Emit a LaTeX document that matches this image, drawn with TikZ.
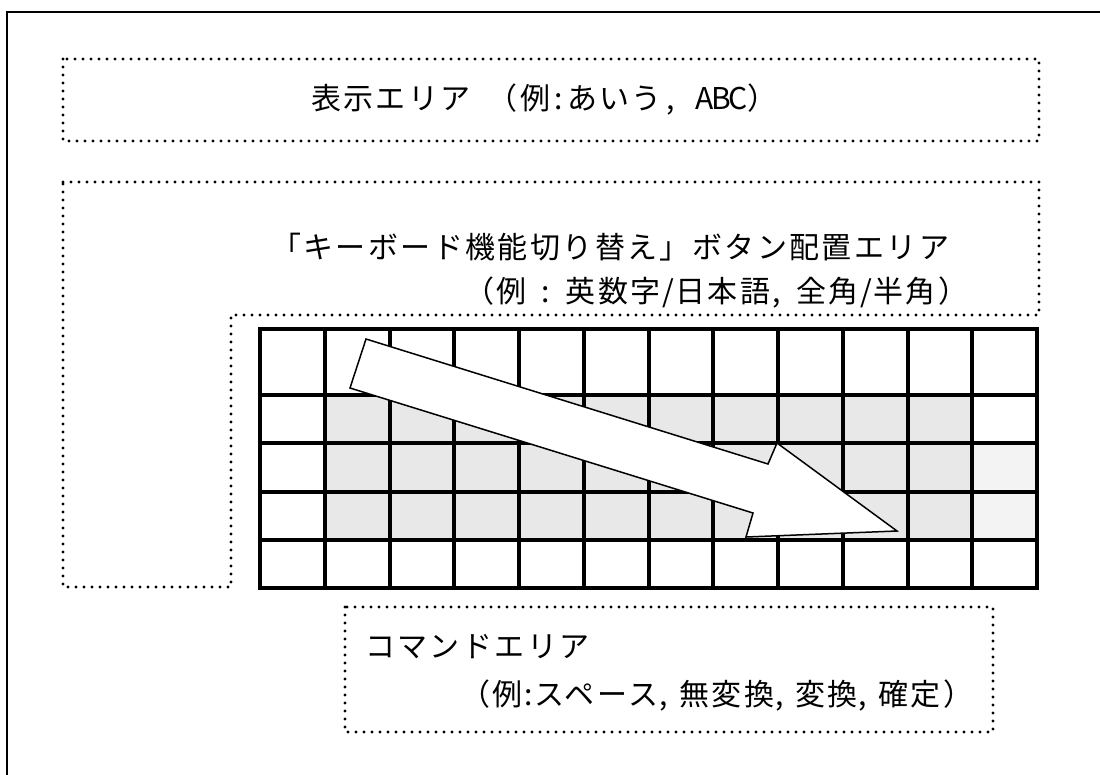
\documentclass[tikz,border=0pt]{standalone}
\usepackage{fontspec}
\newfontfamily\jp[LetterSpace=8]{Noto Sans CJK JP}
\definecolor{cellgray}{HTML}{E8E8E8}
\definecolor{cellpale}{HTML}{F3F3F3}
\newcommand{\hw}[2][17pt]{\makebox[#1][c]{#2}}
\tikzset{
  dotbox/.style={line width=3.2pt, line cap=round, dash pattern=on 0pt off 8pt},
  gridline/.style={line width=4pt, line cap=rect},
  frameline/.style={line width=2pt},
  label/.style={inner sep=0pt, anchor=west, font=\jp\fontsize{30}{30}\selectfont},
  bigarrow/.style={fill=white, draw=black, line width=1.5pt, line join=miter}
}
\begin{document}
\begin{tikzpicture}[x=1pt,y=-1pt]
\useasboundingbox (0,0) rectangle (1100,774);
% outer frame (cut at right and bottom)
\draw[frameline] (7,780) -- (7,12) -- (1106,12);
% display area
\draw[dotbox] (63,59) rectangle (1039,141);
% L-shaped key switch area
\draw[dotbox] (63,182) -- (1039,182) -- (1039,315) -- (231,315) -- (231,587) -- (63,587) -- cycle;
% command area
\draw[dotbox] (345,607) rectangle (993,732);
% grid cells
\foreach \c in {1,...,10}{
  \foreach \r in {1,2,3}{
    \pgfmathsetmacro{\xa}{260+64.75*\c}
    \pgfmathsetmacro{\xb}{260+64.75*(\c+1)}
    \pgfmathsetmacro{\ya}{\r==1 ? 395 : (\r==2 ? 443 : 492)}
    \pgfmathsetmacro{\yb}{\r==1 ? 443 : (\r==2 ? 492 : 540)}
    \fill[cellgray] (\xa,\ya) rectangle (\xb,\yb);
  }
}
\fill[cellpale] (972.25,443) rectangle (1037,540);
% grid lines
\foreach \y in {329,395,443,492,540,588}
  \draw[gridline] (260,\y) -- (1037,\y);
\foreach \c in {0,...,12}
  \draw[gridline] ({260+64.75*\c},329) -- ({260+64.75*\c},588);
% big arrow
\draw[bigarrow] (366,339) -- (768,464) -- (777,443) -- (897,531) -- (746,537) -- (753,513) -- (350,388) -- cycle;
% texts
\node[label] (disp) at (311,100) {表示エリア\hw{ }（例\hw{:}あいう\hw{,}\hw{ }\hw{A}\hw{B}\hw{C}）};
\node[label] (kbd) at (271,247) {「キーボード機能切り替え」ボタン配置エリア};
\node[label] (kbdex) at (464,293) {（例\hw[13pt]{ }\hw[13pt]{:}\hw[13pt]{ }英数字\hw[15pt]{/}日本語\hw[13pt]{,}\hw[13pt]{ }全角\hw[15pt]{/}半角）};
\node[label] (cmd) at (365,647) {コマンドエリア};
\node[label] (cmdex) at (460,695) {（例\hw[12pt]{:}スペース\hw[11pt]{,}\hw[10pt]{ }無変換\hw[11pt]{,}\hw[10pt]{ }変換\hw[11pt]{,}\hw[10pt]{ }確定）};
\end{tikzpicture}
\end{document}
